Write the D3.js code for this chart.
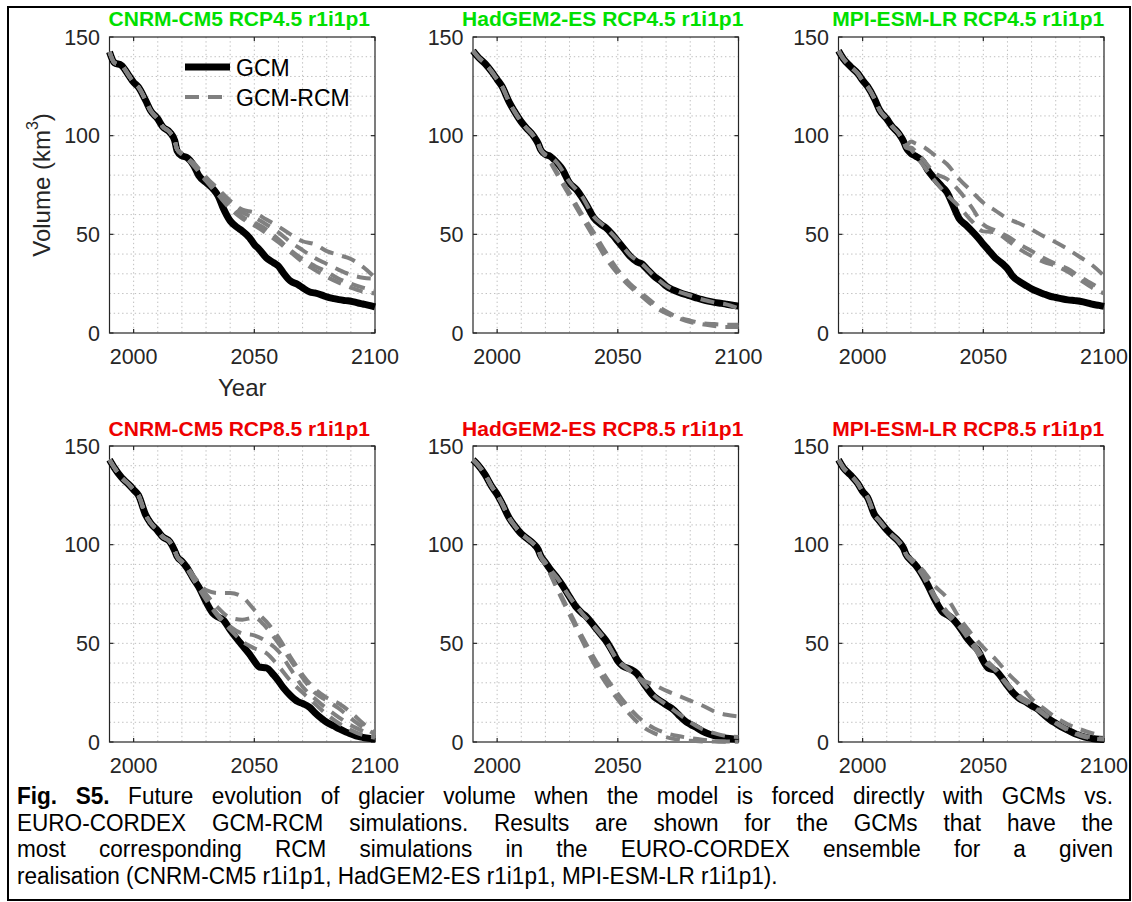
<!DOCTYPE html>
<html>
<head>
<meta charset="utf-8">
<script src="https://cdn.jsdelivr.net/npm/d3@7"></script>
<style>
  body { margin: 0; background: #fff; }
  svg { display: block; font-family: "Liberation Sans", Arial, Helvetica, sans-serif; }
</style>
</head>
<body>
<svg id="fig" width="1132" height="902"></svg>
<script>
// ---- Data: glacier volume (km^3) ----
const gcmYears = [1990,1992,1995,1998,2000,2002,2005,2007,2010,2012,2015,2017,2018,2020,2022,2025,2027,2030,2033,2035,2037,2040,2043,2045,2048,2050,2052,2055,2058,2060,2062,2065,2068,2070,2073,2075,2078,2080,2083,2085,2088,2090,2093,2095,2098,2100];

const gcmCnrm45 = [142.5,137,135.6,130.5,127,124.6,117.8,112.7,108.5,104.6,101.7,97.5,92.4,89.8,89,84.7,79.7,76.3,72.9,69.5,63.6,56.8,53.4,51.7,48.3,44.9,42.4,38.1,35.6,33.9,30.5,26.3,24.6,22.9,20.8,20.3,19.2,18.3,17.4,16.9,16.4,16.1,15.2,14.7,13.9,13.2];
const gcmHad45  = [143,140,136.5,132,128.5,125,117,112.7,107,104,100,96,93,90.5,89.5,86,83,76,72.5,69,65,58.5,55,53.4,49.5,46.5,43.5,39,36,35,32.5,28.8,26,23.8,21.8,20.8,19.5,18.8,17.6,16.9,16,15.5,15,14.6,14,13.6];
const gcmMpi45  = [143,139,135,131.5,128,125,118.5,113,108.5,105,101,97,94,91,89.6,86.8,82.5,78,74,71.2,66,58,54.5,52,48,45,42.2,38,35,32.6,29,26,23.8,22.4,20.8,19.8,18.5,18,17.2,16.8,16.4,16.1,15.3,14.6,14,13.5];
const gcmCnrm85 = [143,139,134,130.5,127.8,125,115,111,107,104,101.5,97,94,91.5,88.5,82.3,78.5,71,65,63.3,62,56.8,52,49,44.5,41,38,37.6,34,31,27.5,23.5,20.5,19.5,17.5,15,11.8,10,8.1,6.8,5,4.1,2.8,2.3,1.8,1.6];
const gcmHad85  = [143,140.5,135.5,129,125.5,121,113.5,110,105.5,103.5,100.5,97.5,94.5,91,87.5,83,79.5,73.5,68,65.5,63.5,59,54.5,51.5,45.5,41,38.5,37,34.5,31,27.5,23,20.5,18.8,16.4,14,10.5,9,7,5.5,3.9,3.2,2.3,1.9,1.5,1.3];
const gcmMpi85  = [143,139,135.3,131,127,124,115,112,107.5,105,101.5,98,95,92,89.5,84,79.5,72,66,64.5,62.8,58.5,53,50,46,41,37.5,36.3,32,28.5,25.4,22,20,18.4,16.2,14,11,9.5,7.2,6,4.2,3.3,2.2,1.8,1.4,1.3];

// GCM-RCM runs from 2018 onwards (earlier years follow the driving GCM)
const rcmYears = [2018,2020,2022,2025,2030,2035,2040,2045,2050,2055,2060,2065,2070,2075,2080,2085,2090,2095,2100];

const rcmCnrm45 = [
  [93,91,89,86,79,73,67,62.5,61,57.5,54,50,46.5,45,41.5,39.5,37.5,33.5,28],
  [93,91,89,85.5,78.5,72,66,61,58.5,55,51,46,42,38,35,32,29.5,28,27.5],
  [93,90.5,88.5,85,77.5,71,64,59,56,52.5,47.5,42,37.5,34,31,27.5,25,23,21.5],
  [93,90.5,88.5,84.5,77,70,63,58,54.5,50.5,46,41,36,32,28.5,25.5,23,21,20]
];
const rcmHad45 = [
  [93,90.5,89.5,86,76.5,69.5,59,53.5,47,39.5,35,29,24,21,19,17,15.5,14.5,12.5],
  [93,90,87,81,71,60.5,51,41,32,25,20,15,11,8,6.3,5,4.5,4.2,4.2],
  [93,90,86.5,80,69.5,59,48.5,38,30,23.5,18.5,13.5,10,7.5,5.5,4.5,3.5,3,3]
];
const rcmMpi45 = [
  [95,97,96,94.5,90,85.5,78,72,66,62,58,55.5,52.5,49,46,42.5,38.5,34.5,29],
  [94,94,92,88,81,78,72,64,55,52,49,45,41.5,38,35,32.5,28.5,25,21.5],
  [94,93,90,85,77,70,64,57,51.5,51,47,42.5,39,36,34,31,27,23,20]
];
const rcmCnrm85 = [
  [94,91.5,89,84,77,75.5,75.5,73.5,67,61,53,43,34,27,22.5,19.5,15,9.5,4.5],
  [94,91.5,88.5,83,75,68,63,62,63,58,50,41.5,32.5,25,21,17,12,7.5,4],
  [94,91,88,82,73,64.5,58.5,55,54,51,46,37,28,22,17,12.5,8.5,5.5,3],
  [94,91,88,82,72,63.5,57,51,47.5,45,38.5,31,25,19.5,14,9.5,6,3.5,2.2]
];
const rcmHad85 = [
  [94.5,91,87.5,83,73.5,65.5,59,51.5,41,36,31.5,29,26,23.5,21,18.5,15.5,13.8,13],
  [94.5,91,87.5,83,73.5,65.5,58.5,51,41.5,36.5,30.5,23.5,19,14.5,10,6.5,4.5,3,2.5],
  [94,90,85.5,78,66,54,43,33,24.5,17,11,7,4.5,3,2,1.2,0.6,0.3,0.2],
  [94,90,85,77,64.5,52,40,30,21.5,14,8,4.5,2.5,1.2,0.6,0.3,0.2,0.1,0.1]
];
const rcmMpi85 = [
  [95,93,91,87,79,73,63,55,48,42,35,29,22,17,12.5,9,6.5,4.5,3],
  [95,92.5,90,85,74,66,60,52,43,37,29.5,23.5,19.5,14.5,10,6.5,3.8,2.3,1.8],
  [95,92,89.5,84,72.5,64.5,58.5,50,41,36.3,28.5,22,18.4,14,9.5,6,3.3,1.8,1.3]
];

const panelTitles = [
  "CNRM-CM5 RCP4.5 r1i1p1", "HadGEM2-ES RCP4.5 r1i1p1", "MPI-ESM-LR RCP4.5 r1i1p1",
  "CNRM-CM5 RCP8.5 r1i1p1", "HadGEM2-ES RCP8.5 r1i1p1", "MPI-ESM-LR RCP8.5 r1i1p1"
];
const xTicks = [2000, 2050, 2100];
const yTicks = [0, 50, 100, 150];
const legendLabels = ["GCM", "GCM-RCM"];

const captionLines = [
  "Fig. S5. Future evolution of glacier volume when the model is forced directly with GCMs vs.",
  "EURO-CORDEX GCM-RCM simulations. Results are shown for the GCMs that have the",
  "most corresponding RCM simulations in the EURO-CORDEX ensemble for a given",
  "realisation (CNRM-CM5 r1i1p1, HadGEM2-ES r1i1p1, MPI-ESM-LR r1i1p1)."
];

// ---- Layout ----
const svg = d3.select("#fig");
const colX = [109.5, 473, 838.5];
const rowY = [37, 446];
const axW = 265.5, axH = 296;
const axisColor = "#262626";
const titleColors = ["#00e000", "#ee0000"];

const panelData = [
  [gcmCnrm45, rcmCnrm45], [gcmHad45, rcmHad45], [gcmMpi45, rcmMpi45],
  [gcmCnrm85, rcmCnrm85], [gcmHad85, rcmHad85], [gcmMpi85, rcmMpi85]
];

// outer frame
svg.append("rect").attr("x", 8).attr("y", 7).attr("width", 1122).attr("height", 893)
  .attr("fill", "none").attr("stroke", "#000").attr("stroke-width", 2);

panelData.forEach(([gcm, rcms], i) => {
  const row = Math.floor(i / 3), col = i % 3;
  const x0 = colX[col], y0 = rowY[row];
  const x = d3.scaleLinear().domain([1990, 2100]).range([x0, x0 + axW]);
  const y = d3.scaleLinear().domain([0, 150]).range([y0 + axH, y0]);
  const g = svg.append("g");

  // dotted grid
  const grid = g.append("g").attr("stroke", "#bfbfbf").attr("stroke-width", 1)
    .attr("stroke-dasharray", "1.4,2.8");
  grid.selectAll("line.v").data(d3.range(2000, 2100, 10)).join("line")
    .attr("x1", d => x(d)).attr("x2", d => x(d)).attr("y1", y0).attr("y2", y0 + axH);
  grid.selectAll("line.h").data(d3.range(10, 150, 10)).join("line")
    .attr("y1", d => y(d)).attr("y2", d => y(d)).attr("x1", x0).attr("x2", x0 + axW);

  // axes with inward ticks on all sides
  const tl = 4;
  const ax = g.append("g").attr("stroke", axisColor).attr("stroke-width", 1.2);
  ax.append("rect").attr("x", x0).attr("y", y0).attr("width", axW).attr("height", axH).attr("fill", "none");
  xTicks.forEach(t => {
    ax.append("line").attr("x1", x(t)).attr("x2", x(t)).attr("y1", y0 + axH).attr("y2", y0 + axH - tl);
    ax.append("line").attr("x1", x(t)).attr("x2", x(t)).attr("y1", y0).attr("y2", y0 + tl);
  });
  yTicks.forEach(t => {
    ax.append("line").attr("y1", y(t)).attr("y2", y(t)).attr("x1", x0).attr("x2", x0 + tl);
    ax.append("line").attr("y1", y(t)).attr("y2", y(t)).attr("x1", x0 + axW).attr("x2", x0 + axW - tl);
  });

  g.selectAll("text.xt").data(xTicks).join("text")
    .attr("x", d => x(d)).attr("y", y0 + axH + 31).attr("text-anchor", "middle")
    .attr("font-size", 21.5).attr("fill", axisColor).text(d => d);
  g.selectAll("text.yt").data(yTicks).join("text")
    .attr("x", x0 - 9.5).attr("y", d => y(d)).attr("dy", "0.36em").attr("text-anchor", "end")
    .attr("font-size", 21.5).attr("fill", axisColor).text(d => d);

  // title
  g.append("text").attr("x", x0 + axW / 2 - 3).attr("y", row === 0 ? 26 : 436)
    .attr("text-anchor", "middle").attr("font-size", 21).attr("font-weight", "bold")
    .attr("fill", titleColors[row]).text(panelTitles[i]);

  // lines
  const line = d3.line().x(d => x(d[0])).y(d => y(d[1])).curve(d3.curveMonotoneX);
  const gcmPts = gcmYears.map((yr, k) => [yr, gcm[k]]);
  g.append("path").datum(gcmPts).attr("d", line)
    .attr("fill", "none").attr("stroke", "#000").attr("stroke-width", 7)
    .attr("stroke-linejoin", "round");

  const hist = gcmPts.filter(p => p[0] < rcmYears[0]);
  rcms.forEach(vals => {
    const pts = hist.concat(rcmYears.map((yr, k) => [yr, vals[k]]));
    g.append("path").datum(pts).attr("d", line)
      .attr("fill", "none").attr("stroke", "#808080").attr("stroke-width", 4)
      .attr("stroke-dasharray", "14,9").attr("stroke-linejoin", "round");
  });

  if (i === 0) {
    // axis labels
    g.append("text").attr("transform", `translate(50,${y0 + axH / 2}) rotate(-90)`)
      .attr("text-anchor", "middle").attr("font-size", 24).attr("fill", axisColor)
      .call(t => {
        t.append("tspan").text("Volume (km");
        t.append("tspan").attr("font-size", 16).attr("dy", "-0.75em").text("3");
        t.append("tspan").attr("dy", "0.5em").text(")");
      });
    g.append("text").attr("x", x0 + axW / 2).attr("y", 396).attr("text-anchor", "middle")
      .attr("font-size", 24).attr("fill", axisColor).text("Year");

    // legend
    const lg = g.append("g");
    lg.append("line").attr("x1", 185).attr("x2", 230).attr("y1", 67).attr("y2", 67)
      .attr("stroke", "#000").attr("stroke-width", 7);
    lg.append("line").attr("x1", 185).attr("x2", 231).attr("y1", 97).attr("y2", 97)
      .attr("stroke", "#808080").attr("stroke-width", 4).attr("stroke-dasharray", "14,9");
    lg.selectAll("text").data(legendLabels).join("text")
      .attr("x", 236).attr("y", (d, k) => 75.5 + k * 30).attr("font-size", 23)
      .attr("fill", "#000").text(d => d);
  }
});

// caption in a slightly condensed face, justified
const capLeft = 17, capRight = 1113, capSize = 23.5, capScaleX = 0.96;
const capWidth = (capRight - capLeft) / capScaleX;
captionLines.forEach((lineText, li) => {
  const words = lineText.split(" ");
  const t = svg.append("g")
    .attr("transform", `translate(${capLeft},${804 + li * 26.5}) scale(${capScaleX},1)`)
    .append("text").attr("font-size", capSize).attr("fill", "#000");
  const spans = words.map((w, k) => t.append("tspan")
    .attr("font-weight", li === 0 && k < 2 ? "bold" : "normal").text(w));
  const widths = spans.map(s => s.node().getComputedTextLength());
  const total = d3.sum(widths);
  const gap = li < captionLines.length - 1
    ? (capWidth - total) / (words.length - 1)
    : capSize * 0.278;
  let cx = 0;
  spans.forEach((s, k) => { s.attr("x", cx); cx += widths[k] + gap; });
});
</script>
</body>
</html>
